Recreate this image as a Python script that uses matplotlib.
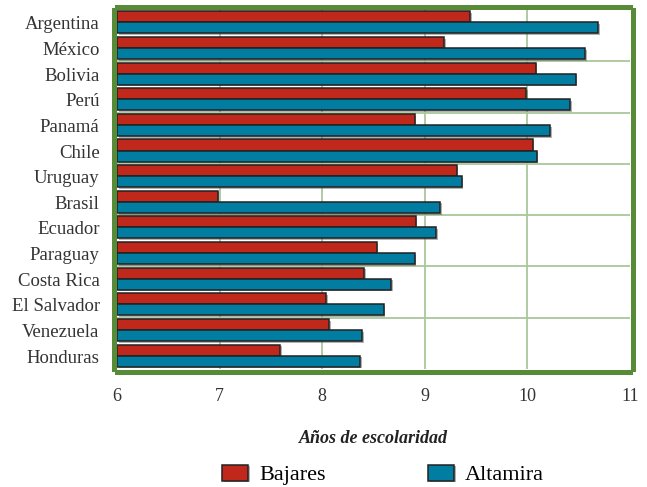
import matplotlib.pyplot as plt
import matplotlib.patheffects as pe
import numpy as np

paises = ['Argentina', 'México', 'Bolivia', 'Perú', 'Panamá', 'Chile', 'Uruguay',
          'Brasil', 'Ecuador', 'Paraguay', 'Costa Rica', 'El Salvador',
          'Venezuela', 'Honduras']
bajares = [9.44, 9.19, 10.08, 9.99, 8.90, 10.05, 9.31,
           6.98, 8.91, 8.53, 8.41, 8.04, 8.07, 7.59]
altamira = [10.69, 10.56, 10.47, 10.42, 10.22, 10.09, 9.36,
            9.15, 9.11, 8.90, 8.67, 8.60, 8.39, 8.37]
xticks = [6, 7, 8, 9, 10, 11]

rojo = '#c0281c'
azul = '#007da0'
verde = '#578b38'
rejilla = '#a9c79b'

plt.rcParams['font.family'] = ['Liberation Serif', 'DejaVu Serif']

fig = plt.figure(figsize=(6.47, 4.87), dpi=100)
ax = fig.add_axes([117 / 647, 1 - 369 / 487, (630 - 117) / 647, (369 - 10) / 487])

y = np.arange(len(paises))
h = 0.43
sombra = [pe.SimplePatchShadow(offset=(1.2, -1.2), shadow_rgbFace='#555555', alpha=0.45),
          pe.Normal()]
b1 = ax.barh(y - h / 2 - 0.02, [v - 6 for v in bajares], left=6, height=h, color=rojo,
             edgecolor='#222222', linewidth=1.1, label='Bajares', zorder=3)
b2 = ax.barh(y + h / 2 - 0.02, [v - 6 for v in altamira], left=6, height=h, color=azul,
             edgecolor='#222222', linewidth=1.1, label='Altamira', zorder=3)
for b in list(b1) + list(b2):
    b.set_path_effects(sombra)

ax.tick_params(axis='both', length=0, labelcolor='#333333')
ax.tick_params(axis='x', pad=11, labelsize=13)
ax.tick_params(axis='y', pad=10, labelsize=13.5)

ax.set_xlim(6, 11)
ax.set_ylim(len(paises) - 0.5, -0.5)
ax.set_xticks(xticks)
ax.set_xticklabels([str(t) for t in xticks])
ax.set_yticks(y)
ax.set_yticklabels(paises)

# rejilla: verticales en cada año, horizontales cada dos países
for xv in xticks[1:-1]:
    ax.axvline(xv, color=rejilla, lw=1.3, zorder=1)
for yv in np.arange(1.5, len(paises) - 1, 2):
    ax.axhline(yv, color=rejilla, lw=1.3, zorder=1)

for s in ax.spines.values():
    s.set_color(verde)
    s.set_linewidth(3.6)
    s.set_position(('outward', 2.5))
    s.set_zorder(5)

ax.set_xlabel('Años de escolaridad', fontsize=13, fontweight='bold', style='italic',
              color='#222222', labelpad=18)

fig.legend(handles=[b1, b2], labels=['Bajares', 'Altamira'], loc='center',
           bbox_to_anchor=(383 / 647, 1 - 475 / 487), ncol=2, frameon=False,
           fontsize=16, handlelength=1.17, handleheight=0.72, columnspacing=4.6,
           handletextpad=0.5, borderpad=0.2)

fig.savefig('out.png', dpi=100)
